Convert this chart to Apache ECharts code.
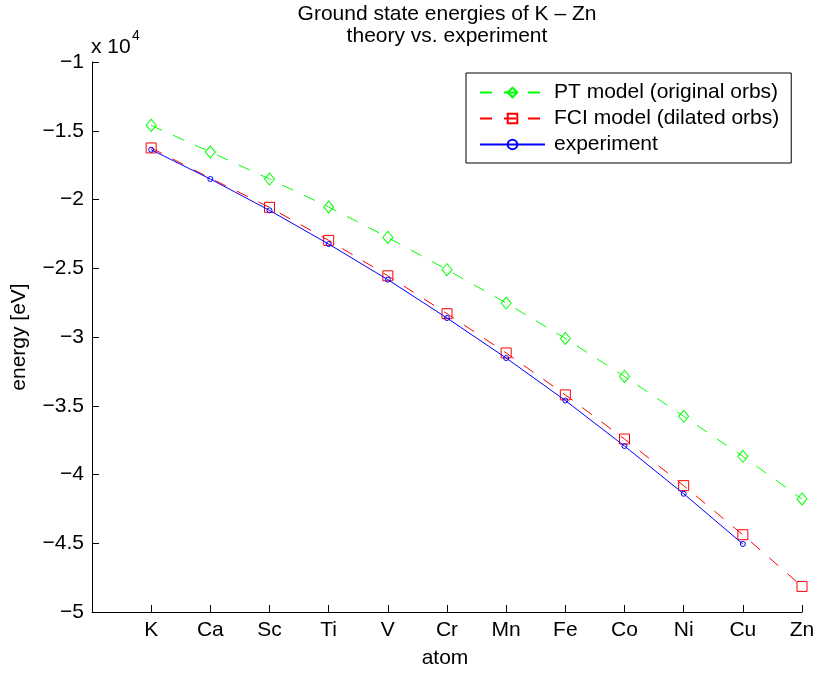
<!DOCTYPE html>
<html>
<head>
<meta charset="utf-8">
<script src="https://cdn.jsdelivr.net/npm/echarts@6/dist/echarts.min.js"></script>
<style>
html,body{margin:0;padding:0;background:#fff;}
#chart{width:818px;height:673px;}
</style>
</head>
<body>
<div id="chart"></div>
<script>
// Data (energies in eV)
const atoms = ['K','Ca','Sc','Ti','V','Cr','Mn','Fe','Co','Ni','Cu','Zn'];
const ptModel = [-14610,-16545,-18510,-20545,-22756,-25105,-27530,-30100,-32870,-35770,-38680,-41780];
const fciModel = [-16250,-18450,-20570,-22970,-25550,-28305,-31160,-34210,-37420,-40810,-44380,-48140];
const experiment = [-16380,-18510,-20790,-23240,-25830,-28620,-31530,-34620,-37930,-41400,-45050,null];
const fciNoMarker = ['Ca'];
const yTicks = [-10000,-15000,-20000,-25000,-30000,-35000,-40000,-45000,-50000];

const FONT = '"Liberation Sans", Arial, Helvetica, sans-serif';
const FS = 21;

function toPairs(arr, noMarker) {
  const out = [];
  arr.forEach((v, i) => {
    if (v === null) return;
    const item = { value: [i + 1, v] };
    if (noMarker && noMarker.indexOf(atoms[i]) >= 0) item.symbol = 'none';
    out.push(item);
  });
  return out;
}

const chart = echarts.init(document.getElementById('chart'), null, {renderer: 'canvas'});
const option = {
  animation: false,
  backgroundColor: '#fff',
  title: {
    text: 'Ground state energies of K \u2013 Zn\ntheory vs. experiment',
    left: 447, top: 3, textAlign: 'center', padding: 0,
    textStyle: { fontFamily: FONT, fontSize: FS, fontWeight: 'normal', color: '#000', lineHeight: 22 }
  },
  legend: {
    orient: 'vertical',
    left: 466, top: 73,
    padding: [9, 12, 8, 13],
    itemWidth: 65, itemHeight: 12, itemGap: 5,
    borderColor: '#000', borderWidth: 1, backgroundColor: '#fff',
    textStyle: { fontFamily: FONT, fontSize: FS, color: '#000', lineHeight: 21, padding: [0,0,0,4] },
    data: ['PT model (original orbs)', 'FCI model (dilated orbs)', 'experiment']
  },
  grid: { left: 92, top: 62, width: 710, height: 550, containLabel: false },
  xAxis: {
    type: 'value', min: 0, max: 12, interval: 1,
    axisLine: { lineStyle: { color: '#000', width: 1 } },
    axisTick: { inside: true, length: 7, lineStyle: { color: '#000' } },
    splitLine: { show: false },
    axisLabel: {
      fontFamily: FONT, fontSize: FS, color: '#000', margin: 8,
      formatter: v => (v >= 1 && v <= atoms.length && Number.isInteger(v)) ? atoms[v - 1] : ''
    }
  },
  yAxis: {
    type: 'value', min: yTicks[yTicks.length - 1], max: yTicks[0], interval: 5000,
    axisLine: { show: true, lineStyle: { color: '#000', width: 1 } },
    axisTick: { show: true, inside: true, length: 7, lineStyle: { color: '#000' } },
    splitLine: { show: false },
    axisLabel: {
      fontFamily: FONT, fontSize: FS, color: '#000', margin: 8,
      formatter: v => { const s = String(Math.abs(v / 1e4)); return v < 0 ? '\u2212' + s : s; }
    }
  },
  graphic: [
    { type: 'text', left: 91, top: 37, style: { text: 'x 10', font: FS + 'px ' + FONT, fill: '#000' } },
    { type: 'text', left: 132, top: 29, style: { text: '4', font: '14px ' + FONT, fill: '#000' } },
    { type: 'text', x: 19, y: 337, rotation: Math.PI / 2,
      style: { text: 'energy [eV]', font: FS + 'px ' + FONT, fill: '#000', align: 'center', verticalAlign: 'middle' } },
    { type: 'text', x: 445, y: 658,
      style: { text: 'atom', font: FS + 'px ' + FONT, fill: '#000', align: 'center', verticalAlign: 'middle' } }
  ],
  series: [
    {
      name: 'PT model (original orbs)', type: 'line',
      data: toPairs(ptModel),
      symbol: 'diamond', symbolSize: [10, 12], showAllSymbol: true,
      itemStyle: { color: 'rgba(0,0,0,0)', borderColor: '#00ff00', borderWidth: 1 },
      lineStyle: { color: '#00ff00', width: 1, type: [12, 12] },
      z: 2
    },
    {
      name: 'FCI model (dilated orbs)', type: 'line',
      data: toPairs(fciModel, fciNoMarker),
      symbol: 'rect', symbolSize: 10, showAllSymbol: true,
      itemStyle: { color: 'rgba(0,0,0,0)', borderColor: '#ff0000', borderWidth: 1 },
      lineStyle: { color: '#ff0000', width: 1, type: [12, 12] },
      z: 3
    },
    {
      name: 'experiment', type: 'line',
      data: toPairs(experiment),
      symbol: 'circle', symbolSize: 5, showAllSymbol: true,
      itemStyle: { color: 'rgba(0,0,0,0)', borderColor: '#0000ff', borderWidth: 1 },
      lineStyle: { color: '#0000ff', width: 1, type: 'solid' },
      z: 4
    }
  ]
};
chart.setOption(option);
</script>
</body>
</html>
